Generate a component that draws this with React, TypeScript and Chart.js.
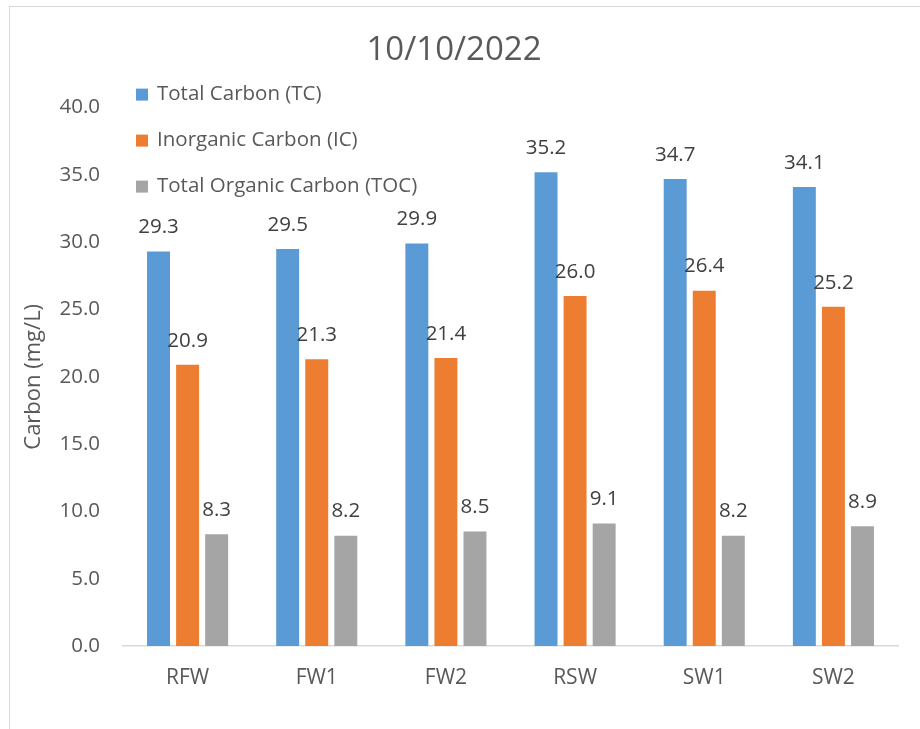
import React, { useEffect, useRef } from "react";
import { Chart, registerables } from "chart.js";

Chart.register(...registerables);

const categories = ["RFW", "FW1", "FW2", "RSW", "SW1", "SW2"];
const seriesNames = ["Total Carbon (TC)", "Inorganic Carbon (IC)", "Total Organic Carbon (TOC)"];
const tcValues = [29.3, 29.5, 29.9, 35.2, 34.7, 34.1];
const icValues = [20.9, 21.3, 21.4, 26.0, 26.4, 25.2];
const tocValues = [8.3, 8.2, 8.5, 9.1, 8.2, 8.9];
const seriesColors = ["#5B9BD5", "#ED7D31", "#A5A5A5"];
const titleText = "10/10/2022";
const yTitle = "Carbon (mg/L)";

const FONT = "'Open Sans', sans-serif";
const TEXT = "#595959";

const dataLabelPlugin = {
  id: "dataLabels",
  afterDatasetsDraw(chart: any) {
    const ctx = chart.ctx;
    ctx.save();
    ctx.font = `20.5px ${FONT}`;
    ctx.fillStyle = "#404040";
    ctx.textAlign = "center";
    ctx.textBaseline = "middle";
    chart.data.datasets.forEach((ds: any, i: number) => {
      const meta = chart.getDatasetMeta(i);
      meta.data.forEach((bar: any, j: number) => {
        const v = ds.data[j];
        ctx.fillText(Number(v).toFixed(1), bar.x, bar.y - 24);
      });
    });
    ctx.restore();
  },
};

const legendPlugin = {
  id: "customLegend",
  afterDraw(chart: any) {
    const ctx = chart.ctx;
    const left = chart.chartArea.left + 13;
    const top = chart.chartArea.top - 13;
    ctx.save();
    ctx.font = `20.5px ${FONT}`;
    ctx.textBaseline = "middle";
    ctx.textAlign = "left";
    chart.data.datasets.forEach((ds: any, i: number) => {
      const cy = top + i * 46;
      ctx.fillStyle = ds.backgroundColor;
      ctx.fillRect(left, cy - 6, 12, 12);
      ctx.fillStyle = TEXT;
      ctx.fillText(ds.label, left + 21, cy);
    });
    ctx.restore();
  },
};

export default function App() {
  const ref = useRef<HTMLCanvasElement | null>(null);
  useEffect(() => {
    if (!ref.current) return;
    const allValues = [tcValues, icValues, tocValues];
    const chart = new Chart(ref.current, {
      type: "bar",
      data: {
        labels: categories,
        datasets: seriesNames.map((name, i) => ({
          label: name,
          data: allValues[i],
          backgroundColor: seriesColors[i],
          borderWidth: 0,
          categoryPercentage: 0.675,
          barPercentage: 0.79,
        })),
      },
      options: {
        animation: false,
        responsive: true,
        maintainAspectRatio: false,
        layout: { padding: { top: 0, right: 22, bottom: 0, left: 0 } },
        plugins: {
          legend: { display: false },
          tooltip: { enabled: false },
          title: {
            display: true,
            text: titleText,
            color: TEXT,
            font: { family: FONT, size: 33, weight: "normal" },
            padding: { top: 24, bottom: 37 },
          },
        },
        scales: {
          x: {
            grid: { display: false },
            border: { display: true, color: "#D9D9D9", width: 1.5 },
            ticks: { color: TEXT, font: { family: FONT, size: 21 }, padding: 11 },
            afterFit: (scale: any) => {
              scale.height = 83;
            },
          },
          y: {
            min: 0,
            max: 40,
            grid: { display: false },
            border: { display: false },
            ticks: {
              stepSize: 5,
              color: TEXT,
              font: { family: FONT, size: 20.5 },
              padding: 15,
              callback: (v: any) => Number(v).toFixed(1),
            },
            title: {
              display: true,
              text: yTitle,
              color: TEXT,
              font: { family: FONT, size: 22, weight: "normal" },
              padding: { top: 11, bottom: 0 },
            },
            afterFit: (scale: any) => {
              scale.width = 113;
            },
          },
        },
      },
      plugins: [dataLabelPlugin, legendPlugin],
    } as any);
    return () => chart.destroy();
  }, []);

  return (
    <div
      style={{
        position: "absolute",
        left: 9,
        top: 6,
        width: 930,
        height: 740,
        borderLeft: "1px solid #D9D9D9",
        borderTop: "1px solid #D9D9D9",
        background: "#fff",
      }}
    >
      <div style={{ position: "relative", width: 910, height: 722 }}>
        <canvas ref={ref} />
      </div>
    </div>
  );
}
